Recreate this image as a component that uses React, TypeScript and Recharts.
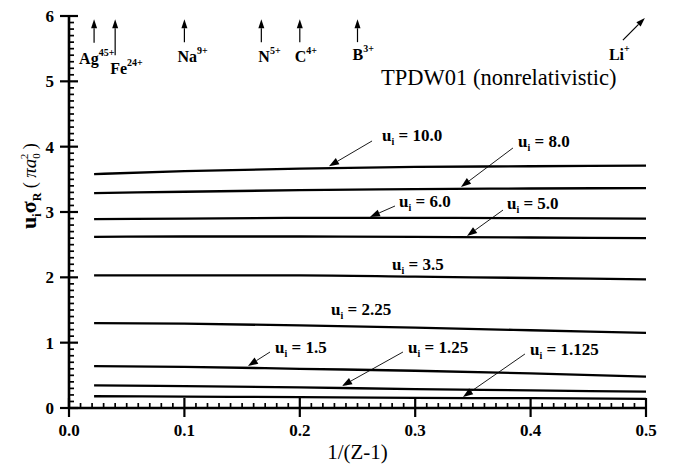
import React from 'react';
import { LineChart, Line, XAxis, YAxis, ReferenceLine, ReferenceDot } from 'recharts';

// Abscissa 1/(Z-1) where each curve was evaluated
const X_VALUES = [1 / 46, 0.1, 0.2, 0.3, 0.4, 0.5];

// u_i * sigma_R (in units of pi a0^2) for each reduced incident energy u_i
const SIGMA_U10 = [3.58, 3.625, 3.665, 3.69, 3.7, 3.71];
const SIGMA_U8 = [3.29, 3.31, 3.335, 3.35, 3.36, 3.365];
const SIGMA_U6 = [2.89, 2.9, 2.91, 2.91, 2.905, 2.9];
const SIGMA_U5 = [2.62, 2.625, 2.625, 2.62, 2.61, 2.6];
const SIGMA_U3_5 = [2.03, 2.03, 2.03, 2.01, 1.99, 1.97];
const SIGMA_U2_25 = [1.3, 1.29, 1.265, 1.23, 1.19, 1.15];
const SIGMA_U1_5 = [0.64, 0.63, 0.6, 0.57, 0.53, 0.48];
const SIGMA_U1_25 = [0.345, 0.335, 0.315, 0.29, 0.27, 0.25];
const SIGMA_U1_125 = [0.18, 0.175, 0.165, 0.155, 0.15, 0.14];

const SERIES = [
  { key: 'u10', values: SIGMA_U10 },
  { key: 'u8', values: SIGMA_U8 },
  { key: 'u6', values: SIGMA_U6 },
  { key: 'u5', values: SIGMA_U5 },
  { key: 'u3_5', values: SIGMA_U3_5 },
  { key: 'u2_25', values: SIGMA_U2_25 },
  { key: 'u1_5', values: SIGMA_U1_5 },
  { key: 'u1_25', values: SIGMA_U1_25 },
  { key: 'u1_125', values: SIGMA_U1_125 },
];

// Axis ticks
const X_MAJOR_TICKS = [0, 0.1, 0.2, 0.3, 0.4, 0.5];
const X_TICK_LABELS = ['0.0', '0.1', '0.2', '0.3', '0.4', '0.5'];
const Y_MAJOR_TICKS = [0, 1, 2, 3, 4, 5, 6];
const Y_TICK_LABELS = ['0', '1', '2', '3', '4', '5', '6'];
const X_MINOR_STEP = 0.01;
const Y_MINOR_STEP = 0.1;

// Hydrogen-like ions marked along the top axis
const ION_NAMES = ['Ag', 'Fe', 'Na', 'N', 'C', 'B', 'Li'];
const ION_CHARGES = ['45+', '24+', '9+', '5+', '4+', '3+', '+'];
const ION_Z = [47, 26, 11, 7, 6, 5, 3];

// Annotation placement for the ion markers: arrow tail (data units) and text offset (px)
const ION_LAYOUT = [
  { tailY: 5.59, tailDx: 0, tipY: 5.95, tipDx: 0, textDx: -15, textDy: 21 },
  { tailY: 5.4, tailDx: 0, tipY: 5.95, tipDx: 0, textDx: -5, textDy: 19 },
  { tailY: 5.6, tailDx: 0, tipY: 5.95, tipDx: 0, textDx: -7, textDy: 20 },
  { tailY: 5.6, tailDx: 0, tipY: 5.95, tipDx: 0, textDx: -3, textDy: 20 },
  { tailY: 5.6, tailDx: 0, tipY: 5.95, tipDx: 0, textDx: -5, textDy: 20 },
  { tailY: 5.6, tailDx: 0, tipY: 5.95, tipDx: 0, textDx: -5, textDy: 18 },
  { tailY: 5.63, tailDx: -0.02, tipY: 5.97, tipDx: -0.001, textDx: -14, textDy: 20 },
];

// Curve labels: text anchor (start, baseline) and optional arrow, in data units
const CURVE_LABELS = [
  { text: '10.0', at: [0.2712, 4.087], from: [0.2626, 4.087], to: [0.2253, 3.7] },
  { text: '8.0', at: [0.3891, 3.995], from: [0.3847, 3.98], to: [0.3397, 3.383] },
  { text: '6.0', at: [0.286, 3.077], from: [0.2825, 3.092], to: [0.2608, 2.924] },
  { text: '5.0', at: [0.3795, 3.046], from: [0.3761, 3.03], to: [0.3449, 2.633] },
  { text: '3.5', at: [0.2799, 2.112] },
  { text: '2.25', at: [0.227, 1.4235] },
  { text: '1.5', at: [0.1785, 0.842], from: [0.1742, 0.857], to: [0.1551, 0.643] },
  { text: '1.25', at: [0.2938, 0.842], from: [0.2894, 0.857], to: [0.2366, 0.337] },
  { text: '1.125', at: [0.3995, 0.811], from: [0.3951, 0.827], to: [0.3414, 0.168] },
];

const TITLE_POS = [0.2704, 4.944];

const SERIF = "'Liberation Serif', 'DejaVu Serif', 'Noto Serif', serif";
const INK = '#000';

const rows = X_VALUES.map((x, i) => {
  const row: Record<string, number> = { x };
  SERIES.forEach((s) => {
    row[s.key] = s.values[i];
  });
  return row;
});

const buildTicks = (max: number, step: number) => {
  const out: number[] = [];
  const n = Math.round(max / step);
  for (let i = 0; i <= n; i++) out.push(Math.round(i * step * 1000) / 1000);
  return out;
};
const X_ALL_TICKS = buildTicks(0.5, X_MINOR_STEP);
const Y_ALL_TICKS = buildTicks(6, Y_MINOR_STEP);

const majorIndex = (list: number[], v: number) => list.findIndex((m) => Math.abs(m - v) < 1e-6);

const textStyle = (size: number, bold = false, italic = false): React.CSSProperties => ({
  fontFamily: SERIF,
  fontSize: size,
  fontWeight: bold ? 'bold' : 'normal',
  fontStyle: italic ? 'italic' : 'normal',
});

const BottomTick = (p: any) => {
  const { x, y, payload } = p;
  const idx = majorIndex(X_MAJOR_TICKS, payload.value);
  if (idx < 0) return <line x1={x} x2={x} y1={y} y2={y - 5} stroke={INK} strokeWidth={1.7} />;
  return (
    <g>
      <line x1={x} x2={x} y1={y - 10} y2={y + 9} stroke={INK} strokeWidth={2.2} />
      <text x={x} y={y + 28} textAnchor="middle" style={textStyle(17, true)} fill={INK}>
        {X_TICK_LABELS[idx]}
      </text>
    </g>
  );
};

const TopTick = (p: any) => {
  const { x, y, payload } = p;
  const idx = majorIndex(X_MAJOR_TICKS, payload.value);
  const len = idx < 0 ? 5 : 9;
  return <line x1={x} x2={x} y1={y} y2={y + len} stroke={INK} strokeWidth={idx < 0 ? 1.7 : 2.2} />;
};

const LeftTick = (p: any) => {
  const { x, y, payload } = p;
  const idx = majorIndex(Y_MAJOR_TICKS, payload.value);
  if (idx < 0) return <line x1={x} x2={x + 5} y1={y} y2={y} stroke={INK} strokeWidth={1.7} />;
  return (
    <g>
      <line x1={x - 9} x2={x + 9} y1={y} y2={y} stroke={INK} strokeWidth={2.2} />
      <text x={x - 15} y={y + 6} textAnchor="end" style={textStyle(17, true)} fill={INK}>
        {Y_TICK_LABELS[idx]}
      </text>
    </g>
  );
};

const RightTick = (p: any) => {
  const { x, y, payload } = p;
  const idx = majorIndex(Y_MAJOR_TICKS, payload.value);
  const len = idx < 0 ? 5 : 9;
  return <line x1={x} x2={x - len} y1={y} y2={y} stroke={INK} strokeWidth={idx < 0 ? 1.7 : 2.2} />;
};

const arrowPath = (x1: number, y1: number, x2: number, y2: number, head = 9, half = 3.2, width = 1) => {
  const dx = x2 - x1;
  const dy = y2 - y1;
  const L = Math.hypot(dx, dy) || 1;
  const ux = dx / L;
  const uy = dy / L;
  const bx = x2 - ux * head;
  const by = y2 - uy * head;
  const px = -uy * half;
  const py = ux * half;
  return (
    <g>
      <line x1={x1} y1={y1} x2={bx} y2={by} stroke={INK} strokeWidth={width} />
      <polygon points={`${x2},${y2} ${bx + px},${by + py} ${bx - px},${by - py}`} fill={INK} />
    </g>
  );
};

const XTitle = (p: any) => {
  const vb = p.viewBox || {};
  return (
    <text x={vb.x + vb.width / 2} y={vb.y + 51} textAnchor="middle" style={textStyle(21)} fill={INK}>
      1/(Z-1)
    </text>
  );
};

const YTitle = (p: any) => {
  const vb = p.viewBox || {};
  const cx = vb.x + 36;
  const cy = vb.y + vb.height / 2 - 26;
  return (
    <text x={cx} y={cy} transform={`rotate(-90 ${cx} ${cy})`} textAnchor="middle" style={textStyle(22, true)} fill={INK}>
      <tspan>u</tspan>
      <tspan style={{ fontSize: 12 }} dy={5}>i</tspan>
      <tspan dy={-5}>σ</tspan>
      <tspan style={{ fontSize: 12 }} dy={5}>R</tspan>
      <tspan dy={-5} style={textStyle(18)}>{'   ( '}</tspan>
      <tspan style={textStyle(19, false, true)}>πa</tspan>
      <tspan style={textStyle(11)} dy={4}>0</tspan>
      <tspan style={textStyle(11)} dx={-6} dy={-12}>2</tspan>
      <tspan dy={8} style={textStyle(18)}>{' )'}</tspan>
    </text>
  );
};

export default function App() {
  return (
    <div style={{ position: 'absolute', left: 0, top: 0, background: '#fff' }}>
      <LineChart width={679} height={464} data={rows} margin={{ top: 16, right: 33, bottom: 0, left: 0 }}>
        <XAxis
          dataKey="x"
          type="number"
          domain={[0, 0.5]}
          ticks={X_ALL_TICKS}
          interval={0}
          height={56}
          tickSize={0}
          tickMargin={0}
          tickLine={false}
          tick={BottomTick}
          axisLine={{ stroke: INK, strokeWidth: 2.6 }}
          allowDataOverflow
          label={{ content: XTitle }}
        />
        <XAxis
          xAxisId="top"
          orientation="top"
          type="number"
          domain={[0, 0.5]}
          ticks={X_ALL_TICKS}
          interval={0}
          height={0}
          tickSize={0}
          tickMargin={0}
          tickLine={false}
          tick={TopTick}
          axisLine={{ stroke: INK, strokeWidth: 2.6 }}
        />
        <YAxis
          type="number"
          domain={[0, 6]}
          ticks={Y_ALL_TICKS}
          interval={0}
          width={69}
          tickSize={0}
          tickMargin={0}
          tickLine={false}
          tick={LeftTick}
          axisLine={{ stroke: INK, strokeWidth: 2.6 }}
          allowDataOverflow
          label={{ content: YTitle }}
        />
        <YAxis
          yAxisId="right"
          orientation="right"
          type="number"
          domain={[0, 6]}
          ticks={Y_ALL_TICKS}
          interval={0}
          width={0}
          tickSize={0}
          tickMargin={0}
          tickLine={false}
          tick={RightTick}
          axisLine={{ stroke: INK, strokeWidth: 2.6 }}
        />

        {SERIES.map((s) => (
          <Line
            key={s.key}
            dataKey={s.key}
            type="monotone"
            stroke={INK}
            strokeWidth={2.3}
            dot={false}
            activeDot={false}
            isAnimationActive={false}
          />
        ))}

        {ION_NAMES.map((name, i) => {
          const xIon = 1 / (ION_Z[i] - 1);
          const lay = ION_LAYOUT[i];
          return (
            <ReferenceLine
              key={name}
              ifOverflow="visible"
              segment={[
                { x: xIon + lay.tailDx, y: lay.tailY },
                { x: xIon + lay.tipDx, y: lay.tipY },
              ]}
              shape={(p: any) => (
                <g>
                  {arrowPath(p.x1, p.y1, p.x2, p.y2, 9, 3, 1.2)}
                  <text x={p.x1 + lay.textDx} y={p.y1 + lay.textDy} style={textStyle(16, true)} fill={INK}>
                    <tspan>{name}</tspan>
                    <tspan style={{ fontSize: 10 }} dy={-8}>{ION_CHARGES[i]}</tspan>
                  </text>
                </g>
              )}
            />
          );
        })}

        {CURVE_LABELS.filter((c) => c.from && c.to).map((c) => (
          <ReferenceLine
            key={`arrow-${c.text}`}
            ifOverflow="visible"
            segment={[
              { x: c.from![0], y: c.from![1] },
              { x: c.to![0], y: c.to![1] },
            ]}
            shape={(p: any) => arrowPath(p.x1, p.y1, p.x2, p.y2, 10, 3.6, 0.9)}
          />
        ))}

        {CURVE_LABELS.map((c) => (
          <ReferenceDot
            key={`label-${c.text}`}
            x={c.at[0]}
            y={c.at[1]}
            r={0}
            ifOverflow="visible"
            shape={(p: any) => (
              <text x={p.cx} y={p.cy} style={textStyle(17, true)} fill={INK}>
                <tspan>u</tspan>
                <tspan style={{ fontSize: 10 }} dy={4}>i</tspan>
                <tspan dy={-4}>{` = ${c.text}`}</tspan>
              </text>
            )}
          />
        ))}

        <ReferenceDot
          x={TITLE_POS[0]}
          y={TITLE_POS[1]}
          r={0}
          ifOverflow="visible"
          shape={(p: any) => (
            <text x={p.cx} y={p.cy} style={textStyle(22.5)} fill={INK}>
              TPDW01 (nonrelativistic)
            </text>
          )}
        />
      </LineChart>
    </div>
  );
}
